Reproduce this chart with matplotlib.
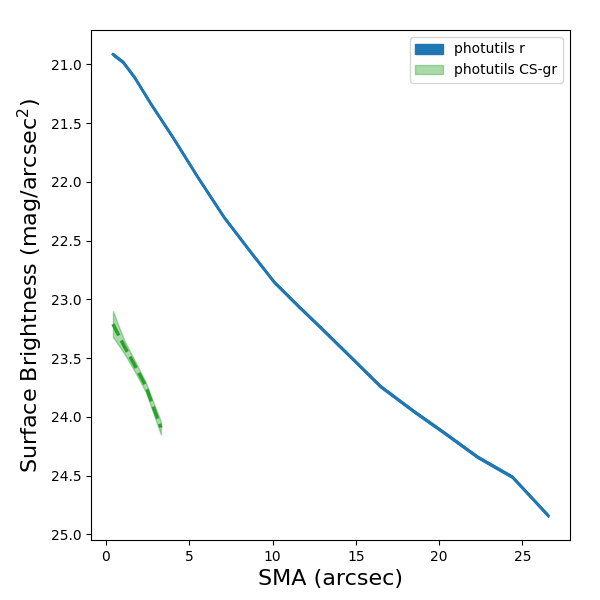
import matplotlib
matplotlib.use("Agg")
import matplotlib.pyplot as plt
import numpy as np

# photutils r profile
sma_r = [0.42, 1.02, 1.71, 2.71, 4.01, 5.51, 7.08, 8.70, 10.08, 11.57, 12.89,
         14.69, 16.48, 18.46, 20.26, 22.3, 24.39, 26.55]
sb_r = [20.915, 20.98, 21.11, 21.34, 21.62, 21.96, 22.30, 22.60, 22.85, 23.06,
        23.24, 23.49, 23.74, 23.95, 24.13, 24.34, 24.51, 24.84]
err_r = [0.01] * len(sma_r)

# photutils CS-gr profile
sma_g = [0.42, 1.1, 1.8, 2.4, 2.8, 3.3]
sb_g = [23.21, 23.40, 23.58, 23.74, 23.90, 24.09]
sb_g_lo = [23.10, 23.35, 23.54, 23.71, 23.86, 24.04]
sb_g_hi = [23.32, 23.46, 23.63, 23.79, 23.95, 24.15]

fig = plt.figure(figsize=(6, 6), dpi=100)
ax = fig.add_axes([0.152, 0.1, 0.798, 0.85])

sr = np.array(sb_r); er = np.array(err_r)
ax.plot(sma_r, sb_r, color='C0', lw=2)
ax.fill_between(sma_r, sr - er, sr + er, color='C0', label='photutils r')

ax.plot(sma_g, sb_g, color='C2', lw=2.5, ls='--')
ax.fill_between(sma_g, sb_g_lo, sb_g_hi, color='C2', alpha=0.4, label='photutils CS-gr')

ax.invert_yaxis()
ax.set_xlabel('SMA (arcsec)', fontsize=16)
ax.set_ylabel('Surface Brightness (mag/arcsec$^2$)', fontsize=16)
ax.legend(loc='upper right')

fig.savefig('out.png', dpi=100)
